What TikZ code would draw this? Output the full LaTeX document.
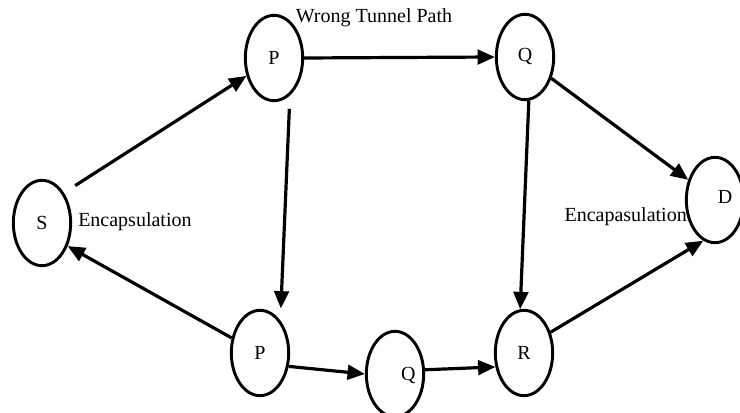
\documentclass[tikz,border=0pt]{standalone}
\usepackage{fontspec}
\setmainfont{Liberation Serif}
\usetikzlibrary{arrows.meta,shapes.geometric}

\begin{document}
\begin{tikzpicture}[x=0.75pt,y=-0.75pt,
    router/.style={draw,ellipse,line width=2.2pt,inner sep=0pt,minimum width=43pt,minimum height=64pt,font=\fontsize{15}{17}\selectfont},
    tag/.style={font=\fontsize{15}{17}\selectfont},
    link/.style={line width=2.4pt,-{Triangle[length=13pt,width=11pt]}},
    note/.style={font=\fontsize{15}{18}\selectfont,inner sep=0pt}]
                \useasboundingbox (0,0) rectangle (740,413); % page size
                % Source and destination
                \node[router] (S) at (42,223) {S};
                \node[router,label={[tag,xshift=7.5pt,yshift=2pt]center:D}] (D) at (715,200) {};
                % Upper (wrong) tunnel
                \node[router] (Pt) at (274,58) {P};
                \node[router] (Qt) at (525,57) {Q};
                % Lower path
                \node[router] (Pb) at (260,353) {P};
                \node[router,label={[tag,xshift=10pt,yshift=-1.5pt]center:Q}] (Qb) at (395,374) {};
                \node[router] (R) at (524,353) {R};
                % Texts
                \node[note,anchor=west] (encS) at (78,222) {Encapsulation};
                \node[note,anchor=east] (encD) at (687,217) {Encapasulation};
                \node[note] (wrong) at (374,18) {Wrong Tunnel Path};
                % Links
                \draw[link,shorten <=10pt] (S.54) -- (Pt.213);
                \draw[link] (Pt.east) -- (Qt.west);
                \draw[link,shorten <=10pt,shorten >=9pt] (Pt.-67) -- (Pb.58);
                \draw[link] (Pb.-25) -- (Qb.west);
                \draw[link] (Qb.8) -- (R.206);
                \draw[link] (Qt.-85) -- (R.95);
                \draw[link] (Qt.-39) -- (D.143);
                \draw[link] (R.38) -- (D.254);
                \draw[link] (Pb.152) -- (S.-42);
            \end{tikzpicture}
\end{document}
